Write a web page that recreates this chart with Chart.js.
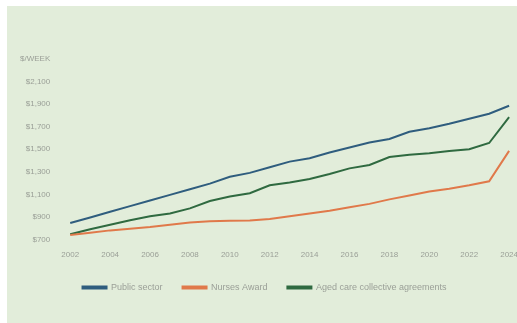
<!DOCTYPE html>
<html>
<head>
<meta charset="utf-8">
<script src="https://cdn.jsdelivr.net/npm/chart.js@4/dist/chart.umd.min.js"></script>
<style>
  html, body { margin: 0; padding: 0; background: #fff; }
  #panel {
    position: absolute; left: 7px; top: 6px; width: 510px; height: 317px;
    background: #e2edda; overflow: hidden;
  }
  #wrap { position: absolute; left: -5px; top: 0; width: 519px; height: 317px; }
</style>
</head>
<body>
<div id="panel"><div id="wrap"><canvas id="wageChart"></canvas></div></div>
<script>
'use strict'

const years = ['2002', '2003', '2004', '2005', '2006', '2007', '2008', '2009', '2010', '2011', '2012', '2013',
  '2014', '2015', '2016', '2017', '2018', '2019', '2020', '2021', '2022', '2023', '2024'];

const publicSector = [845, 895, 945, 995, 1045, 1095, 1145, 1195, 1255, 1290, 1340, 1390,
  1420, 1470, 1515, 1560, 1590, 1655, 1685, 1725, 1770, 1815, 1885];

const nursesAward = [740, 760, 780, 795, 810, 830, 850, 862, 865, 868, 880, 905,
  930, 955, 985, 1015, 1055, 1090, 1125, 1150, 1180, 1215, 1485];

const agedCare = [745, 790, 830, 870, 905, 930, 975, 1040, 1080, 1110, 1180, 1205,
  1235, 1280, 1330, 1360, 1430, 1450, 1465, 1485, 1500, 1555, 1785];

const yTicks = { min: 700, max: 2300, step: 200, topLabel: '$/WEEK' };

const seriesNames = ['Public sector', 'Nurses Award', 'Aged care collective agreements'];
const colors = ['#2f5d7e', '#e0794a', '#2f6a40'];

function makeSet(i, values) {
  return {
    label: seriesNames[i],
    data: values,
    borderColor: colors[i],
    backgroundColor: colors[i],
    borderWidth: 2,
    pointRadius: 0,
    tension: 0,
  };
}

const data = {
  labels: years,
  datasets: [makeSet(0, publicSector), makeSet(1, nursesAward), makeSet(2, agedCare)]
};

const options = {
  responsive: false,
  animation: false,
  layout: { padding: { left: 6, right: 0, top: 53, bottom: 21 } },
  scales: {
    x: {
      grid: { display: false },
      border: { display: false },
      ticks: {
        autoSkip: false,
        maxRotation: 0,
        minRotation: 0,
        padding: 3,
        color: '#9a9f97',
        font: { family: 'Liberation Sans', size: 8 },
        callback: function(value, index) {
          return index % 2 === 0 ? years[index] : '';
        }
      }
    },
    y: {
      min: yTicks.min,
      max: yTicks.max,
      grid: { display: false },
      border: { display: false },
      ticks: {
        stepSize: yTicks.step,
        padding: 12,
        color: '#9a9f97',
        font: { family: 'Liberation Sans', size: 8 },
        callback: function(value) {
          if (value === yTicks.max) return yTicks.topLabel;
          return '$' + value.toLocaleString('en-US');
        }
      }
    }
  },
  plugins: {
    legend: {
      position: 'bottom',
      labels: {
        boxWidth: 24,
        boxHeight: 2,
        padding: 20,
        color: '#9a9f97',
        font: { family: 'Liberation Sans', size: 9 }
      }
    },
    tooltip: { enabled: false }
  }
};

const canvas = document.getElementById('wageChart');
canvas.width = 519;
canvas.height = 317;
new Chart(canvas.getContext('2d'), { type: 'line', data: data, options: options });
</script>
</body>
</html>
